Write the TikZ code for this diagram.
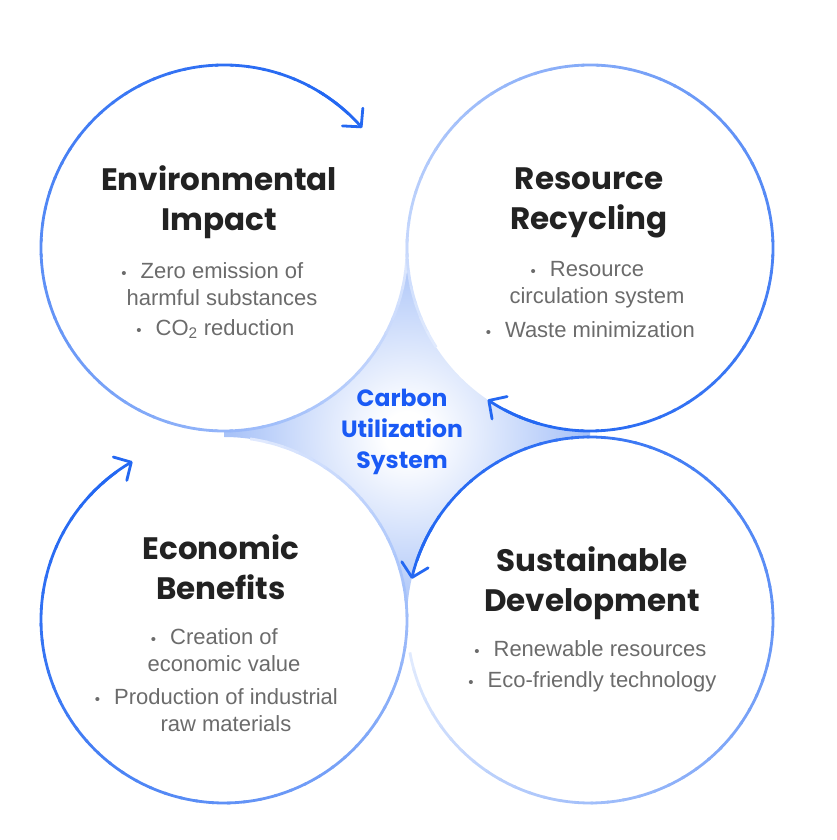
\documentclass[tikz,border=0pt]{standalone}
\usepackage{fontspec}
\setmainfont{Liberation Sans}
\newfontfamily\headfont{Poppins}
\usetikzlibrary{arrows.meta}
\definecolor{ringblue}{HTML}{2468F2}
\definecolor{ringpale}{HTML}{E2EBFE}
\definecolor{startip}{HTML}{A9C3F8}
\definecolor{headgray}{HTML}{222222}
\definecolor{bodygray}{HTML}{6B6B6B}
\definecolor{coreblue}{HTML}{1A5AF5}
\pgfdeclareradialshading{starglow}{\pgfpoint{0bp}{0bp}}{color(0bp)=(white);color(3bp)=(white);color(24bp)=(startip);color(50bp)=(startip)}
\newcommand\bul{\llap{{\fontsize{15}{15}\selectfont\textbullet}\hspace{14pt}}}
\begin{document}
\begin{tikzpicture}[x=1pt,y=1pt,
	head/.style={font=\headfont\bfseries\fontsize{31}{40}\selectfont,text=headgray,align=center,inner sep=0},
	item/.style={font=\fontsize{22}{27}\selectfont,text=bodygray,align=center,inner sep=0},
	core/.style={font=\headfont\bfseries\fontsize{23.5}{31}\selectfont,text=coreblue,align=center,inner sep=0}]
	\useasboundingbox (0,0) rectangle (836,840);
	\coordinate (E) at (224,592);
	\coordinate (R) at (590,592);
	\coordinate (B) at (224,220);
	\coordinate (S) at (590,220);
	\shade [shading=starglow] (407,592) arc (180:270:183) -- (590,403) arc (90:180:183) arc (0:90:183) -- (224,409) arc (270:360:183) -- cycle;
	\foreach \cx/\cy/\st/\dr/\n in {224/592/41/1/62,590/592/236/1/65,224/220/120/1/62,590/220/167/-1/65}{
		\foreach \i in {0,...,\n}{
			\pgfmathsetmacro\a{\st+\dr*(6+5*\i)}
			\pgfmathsetmacro\b{\a+\dr*5.8}
			\pgfmathsetmacro\p{100*(1-((\i+0.5)/(\n+1))^1.5)}
			\draw [line width=2.8,ringblue!\p!ringpale,shift={(\cx,\cy)}] (\a:183) arc (\a:\b:183);
		}
		\pgfmathsetmacro\a{\st+\dr*18}
		\draw [line width=2.8,ringblue,shift={(\cx,\cy)},-{Straight Barb[length=13pt,width=27pt,round]}] (\a:183) arc (\a:\st:183);
	}
	\node [head] (envhead) at (219,638) {Environmental\\Impact};
	\node [item] (envA) at (222,556) {\bul Zero emission of\\harmful substances};
	\node [item] (envB) at (225,511) {\bul CO\textsubscript{2} reduction};
	\node [head] (rechead) at (589,637) {Resource\\Recycling};
	\node [item] (recA) at (597,555) {\bul Resource\\circulation system};
	\node [item] (recB) at (600,510) {\bul Waste minimization};
	\node [head] (ecohead) at (221,273) {Economic\\Benefits};
	\node [item] (ecoA) at (224,190) {\bul Creation of\\economic value};
	\node [item] (ecoB) at (226,130) {\bul Production of industrial\\raw materials};
	\node [head] (sushead) at (592,257) {Sustainable\\Development};
	\node [item] (susA) at (600,191) {\bul Renewable resources};
	\node [item] (susB) at (602,158) {\bul Eco-friendly technology};
	\node [core] (core) at (402,408) {Carbon\\Utilization\\System};
\end{tikzpicture}
\end{document}
